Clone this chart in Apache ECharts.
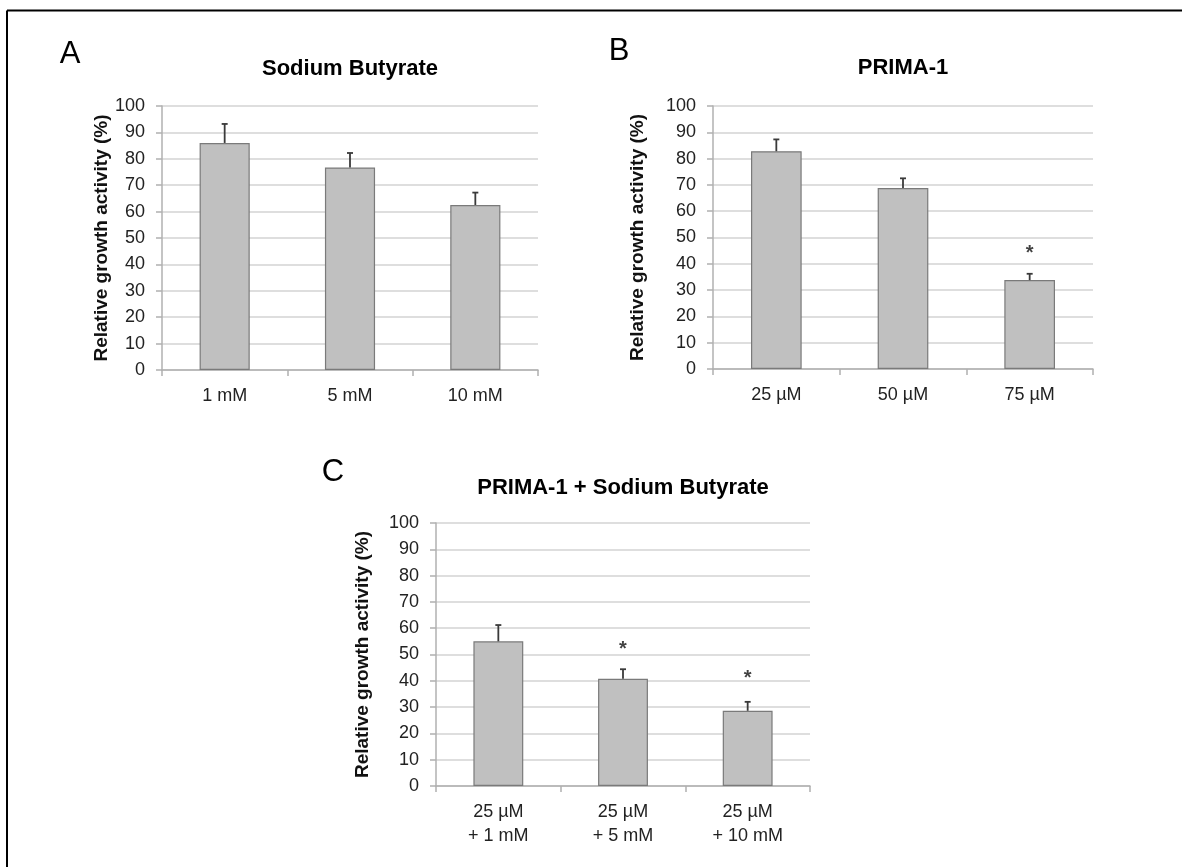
<!DOCTYPE html>
<html>
<head>
<meta charset="utf-8">
<script src="https://cdn.jsdelivr.net/npm/echarts@6/dist/echarts.min.js"></script>
<style>
html,body{margin:0;padding:0;background:#fff;}
#chart{width:1182px;height:867px;}
</style>
</head>
<body>
<div id="chart"></div>
<script>
// ---- Data ----
const catsA = ['1 mM', '5 mM', '10 mM'];
const valsA = [86, 76.7, 62.5];
const errA  = [7.2, 5.5, 4.7];
const starsA = ['', '', ''];
const starPosA = [null, null, null];

const catsB = ['25 µM', '50 µM', '75 µM'];
const valsB = [82.8, 68.8, 33.8];
const errB  = [4.5, 3.7, 2.4];
const starsB = ['', '', '*'];
const starPosB = [null, null, 44];

const catsC = ['25 µM\n+ 1 mM', '25 µM\n+ 5 mM', '25 µM\n+ 10 mM'];
const valsC = [55, 40.8, 28.6];
const errC  = [6.2, 3.6, 3.4];
const starsC = ['', '*', '*'];
const starPosC = [null, 52, 41];

const titles = ['Sodium Butyrate', 'PRIMA-1', 'PRIMA-1 + Sodium Butyrate'];
const letters = ['A', 'B', 'C'];
const yTicks = { min: 0, max: 100, interval: 10 };
const yTitle = 'Relative growth activity (%)';

// ---- Layout / style ----
const FONT = 'Liberation Sans, Arial, sans-serif';
const grids = [
  { left: 162, right: 1182 - 538, top: 106, bottom: 867 - 370 },
  { left: 713, right: 1182 - 1093, top: 106, bottom: 867 - 369 },
  { left: 436, right: 1182 - 810, top: 523, bottom: 867 - 786 }
];
const nameGaps = [49, 66, 64];
const panels = [
  { cats: catsA, vals: valsA, err: errA, stars: starsA, starPos: starPosA },
  { cats: catsB, vals: valsB, err: errB, stars: starsB, starPos: starPosB },
  { cats: catsC, vals: valsC, err: errC, stars: starsC, starPos: starPosC }
];
const axisGray = '#b0b0b0';

const xAxes = [], yAxes = [], series = [];
panels.forEach((p, i) => {
  xAxes.push({
    gridIndex: i, type: 'category', data: p.cats,
    axisLine: { lineStyle: { color: axisGray, width: 1.5 } },
    axisTick: { show: true, length: 6, lineStyle: { color: axisGray, width: 1.5 } },
    axisLabel: { fontSize: 18, color: '#222', margin: 14, lineHeight: 24, fontFamily: FONT }
  });
  yAxes.push({
    gridIndex: i, type: 'value', min: yTicks.min, max: yTicks.max, interval: yTicks.interval,
    axisLine: { show: true, lineStyle: { color: axisGray, width: 1.5 } },
    axisTick: { show: true, length: 6, lineStyle: { color: axisGray, width: 1.5 } },
    axisLabel: { fontSize: 18, color: '#222', margin: 17, fontFamily: FONT },
    splitLine: { lineStyle: { color: '#d3d3d3', width: 1.5 } },
    name: yTitle, nameLocation: 'middle', nameGap: nameGaps[i],
    nameTextStyle: { fontWeight: 'bold', fontSize: 19, color: '#111', fontFamily: FONT }
  });
  series.push({
    type: 'bar', xAxisIndex: i, yAxisIndex: i, data: p.vals, barWidth: '40%',
    itemStyle: { color: '#c0c0c0', borderColor: '#7a7a7a', borderWidth: 1.2 },
    silent: true, animation: false
  });
  series.push({
    type: 'custom', xAxisIndex: i, yAxisIndex: i, z: 5, animation: false, silent: true,
    data: p.vals.map((v, k) => [k, v, p.err[k]]),
    renderItem: function (params, api) {
      const x = api.value(0), y = api.value(1), e = api.value(2);
      const b = api.coord([x, y]);
      const t = api.coord([x, y + e]);
      const st = { stroke: '#3a3a3a', lineWidth: 1.8 };
      return {
        type: 'group', children: [
          { type: 'line', shape: { x1: b[0], y1: b[1], x2: t[0], y2: t[1] }, style: st },
          { type: 'line', shape: { x1: t[0] - 3, y1: t[1], x2: t[0] + 3, y2: t[1] }, style: st }
        ]
      };
    }
  });
  series.push({
    type: 'scatter', xAxisIndex: i, yAxisIndex: i, symbolSize: 1, z: 6, silent: true, animation: false,
    itemStyle: { color: 'rgba(0,0,0,0)' },
    data: p.starPos.map((v, k) => v == null ? null : { value: [k, v], label: { formatter: p.stars[k] } }).filter(d => d),
    label: { show: true, position: 'inside', fontSize: 20, color: '#111', fontFamily: FONT, fontWeight: 'bold' }
  });
});

const titlePos = [[350, 69], [903, 68], [623, 487.5]];
const letterPos = [[70, 54], [619, 51.5], [333, 472]];
const graphics = [
  { type: 'line', shape: { x1: 7, y1: 10.5, x2: 1182, y2: 10.5 }, style: { stroke: '#000', lineWidth: 2 } },
  { type: 'line', shape: { x1: 7, y1: 10.5, x2: 7, y2: 867 }, style: { stroke: '#000', lineWidth: 2 } }
];
titles.forEach((t, i) => {
  graphics.push({ type: 'text', x: titlePos[i][0], y: titlePos[i][1],
    style: { text: t, fontSize: 22, fontWeight: 'bold', fontFamily: FONT, fill: '#000', align: 'center', verticalAlign: 'middle' } });
});
letters.forEach((t, i) => {
  graphics.push({ type: 'text', x: letterPos[i][0], y: letterPos[i][1],
    style: { text: t, fontSize: 31, fontFamily: FONT, fill: '#000', align: 'center', verticalAlign: 'middle' } });
});

const chart = echarts.init(document.getElementById('chart'), null, { renderer: 'canvas' });
chart.setOption({
  backgroundColor: '#fff',
  animation: false,
  grid: grids,
  xAxis: xAxes,
  yAxis: yAxes,
  series: series,
  graphic: graphics
});
</script>
</body>
</html>
